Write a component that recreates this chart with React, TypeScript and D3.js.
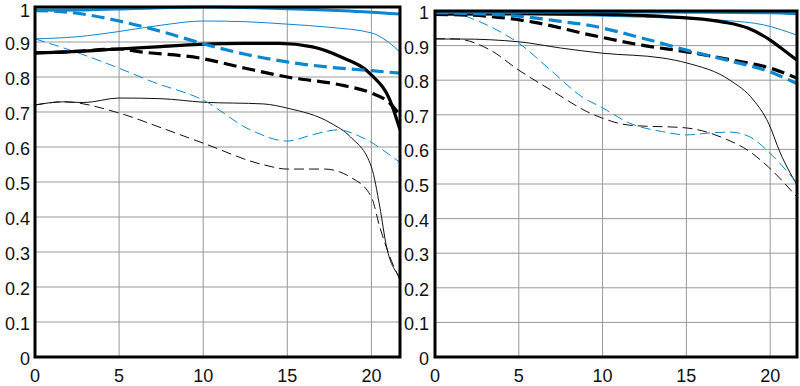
import React from "react";
import * as d3 from "d3";

const BLUE = "#0b87d1";

type Series = { name: string; color: string; thick: boolean; dashed: boolean; x: number[]; y: number[] };

// Left chart
const L_blueThickSolid_x = [0, 3, 6, 10, 14, 18, 21.7];
const L_blueThickSolid_y = [0.991, 0.992, 0.996, 1.0, 0.997, 0.99, 0.98];
const L_blueThickDash_x = [0, 2, 5, 7.5, 10, 12.5, 15, 17.5, 20, 21.7];
const L_blueThickDash_y = [0.99, 0.985, 0.96, 0.93, 0.895, 0.865, 0.843, 0.828, 0.818, 0.811];
const L_blueThinSolid_x = [0, 2.5, 5, 7.5, 10, 12.5, 15, 17.5, 20, 21, 21.7];
const L_blueThinSolid_y = [0.909, 0.915, 0.93, 0.948, 0.96, 0.958, 0.951, 0.942, 0.926, 0.9, 0.871];
const L_blueThinDash_x = [0, 2.5, 5, 7, 10, 12.8, 15, 16.5, 18, 19.5, 21.5, 21.7];
const L_blueThinDash_y = [0.909, 0.87, 0.825, 0.786, 0.734, 0.649, 0.617, 0.635, 0.649, 0.626, 0.563, 0.556];
const L_blackThinSolid_x = [0, 1.7, 2.9, 5, 7.5, 10, 13.6, 15, 17.6, 18.75, 20, 20.5, 20.9, 21.7];
const L_blackThinSolid_y = [0.72, 0.729, 0.727, 0.74, 0.738, 0.728, 0.723, 0.711, 0.668, 0.629, 0.543, 0.429, 0.315, 0.23];
const L_blackThinDash_x = [0, 1.7, 5, 7.5, 10, 13.6, 15, 17.2, 18.75, 20, 20.5, 21.1, 21.7];
const L_blackThinDash_y = [0.72, 0.729, 0.697, 0.655, 0.611, 0.549, 0.537, 0.537, 0.514, 0.457, 0.371, 0.286, 0.22];
const L_blackThickSolid_x = [0, 2, 5, 7.5, 9.8, 12.5, 14.5, 16.5, 18.2, 20, 21.1, 21.7];
const L_blackThickSolid_y = [0.869, 0.872, 0.88, 0.887, 0.893, 0.896, 0.896, 0.886, 0.857, 0.806, 0.734, 0.649];
const L_blackThickDash_x = [0, 2, 5, 6.25, 9.8, 12.5, 15, 18.2, 20, 21.1, 21.7];
const L_blackThickDash_y = [0.869, 0.872, 0.88, 0.872, 0.854, 0.825, 0.8, 0.777, 0.754, 0.725, 0.69];

// Right chart
const R_blueThickSolid_x = [0, 5, 10, 15, 20, 21.6];
const R_blueThickSolid_y = [0.997, 0.997, 0.998, 0.997, 0.995, 0.992];
const R_blueThickDash_x = [0, 2.5, 5, 7.5, 9.25, 12.5, 15, 17.5, 20, 21.6];
const R_blueThickDash_y = [0.995, 0.992, 0.985, 0.97, 0.958, 0.92, 0.887, 0.857, 0.824, 0.79];
const R_blueThinSolid_x = [0, 5, 10, 15, 17.5, 19.6, 21.6];
const R_blueThinSolid_y = [0.995, 0.99, 0.985, 0.978, 0.972, 0.96, 0.93];
const R_blueThinDash_x = [0, 1.5, 2.1, 3.5, 5, 6.9, 8.8, 10, 11.6, 13.5, 15, 16.5, 17.6, 18.8, 19.9, 21.6];
const R_blueThinDash_y = [0.995, 0.99, 0.98, 0.95, 0.907, 0.829, 0.751, 0.72, 0.676, 0.652, 0.642, 0.648, 0.65, 0.636, 0.593, 0.503];
const R_blackThickSolid_x = [0, 5, 9.25, 12.5, 15, 17.2, 18.7, 20, 21, 21.6];
const R_blackThickSolid_y = [0.991, 0.992, 0.991, 0.987, 0.98, 0.968, 0.95, 0.916, 0.88, 0.858];
const R_blackThickDash_x = [0, 2.1, 5.85, 9.25, 12.5, 15, 17.5, 20, 21.6];
const R_blackThickDash_y = [0.99, 0.988, 0.968, 0.931, 0.9, 0.882, 0.86, 0.835, 0.806];
const R_blackThinSolid_x = [0, 1.5, 5, 7.5, 10, 13.6, 15, 17.6, 19, 19.9, 20.6, 21.6];
const R_blackThinSolid_y = [0.919, 0.919, 0.911, 0.893, 0.878, 0.864, 0.85, 0.8, 0.743, 0.676, 0.59, 0.497];
const R_blackThinDash_x = [0, 1.3, 3.3, 5, 6.9, 9.25, 10, 11.6, 15, 17.2, 18.8, 19.9, 21.6];
const R_blackThinDash_y = [0.92, 0.919, 0.887, 0.829, 0.772, 0.705, 0.69, 0.67, 0.662, 0.633, 0.593, 0.549, 0.462];

const xTicks = [0, 5, 10, 15, 20];
const yTicks = [0, 0.1, 0.2, 0.3, 0.4, 0.5, 0.6, 0.7, 0.8, 0.9, 1];
const yTickLabels = ["0", "0.1", "0.2", "0.3", "0.4", "0.5", "0.6", "0.7", "0.8", "0.9", "1"];

const leftSeries: Series[] = [
  { name: "bts", color: "#111", thick: false, dashed: false, x: L_blackThinSolid_x, y: L_blackThinSolid_y },
  { name: "btd", color: "#111", thick: false, dashed: true, x: L_blackThinDash_x, y: L_blackThinDash_y },
  { name: "blts", color: BLUE, thick: false, dashed: false, x: L_blueThinSolid_x, y: L_blueThinSolid_y },
  { name: "bltd", color: BLUE, thick: false, dashed: true, x: L_blueThinDash_x, y: L_blueThinDash_y },
  { name: "bks", color: "#000", thick: true, dashed: false, x: L_blackThickSolid_x, y: L_blackThickSolid_y },
  { name: "bkd", color: "#000", thick: true, dashed: true, x: L_blackThickDash_x, y: L_blackThickDash_y },
  { name: "blks", color: BLUE, thick: true, dashed: false, x: L_blueThickSolid_x, y: L_blueThickSolid_y },
  { name: "blkd", color: BLUE, thick: true, dashed: true, x: L_blueThickDash_x, y: L_blueThickDash_y },
];

const rightSeries: Series[] = [
  { name: "bts", color: "#111", thick: false, dashed: false, x: R_blackThinSolid_x, y: R_blackThinSolid_y },
  { name: "btd", color: "#111", thick: false, dashed: true, x: R_blackThinDash_x, y: R_blackThinDash_y },
  { name: "blts", color: BLUE, thick: false, dashed: false, x: R_blueThinSolid_x, y: R_blueThinSolid_y },
  { name: "bltd", color: BLUE, thick: false, dashed: true, x: R_blueThinDash_x, y: R_blueThinDash_y },
  { name: "bks", color: "#000", thick: true, dashed: false, x: R_blackThickSolid_x, y: R_blackThickSolid_y },
  { name: "bkd", color: "#000", thick: true, dashed: true, x: R_blackThickDash_x, y: R_blackThickDash_y },
  { name: "blkd", color: BLUE, thick: true, dashed: true, x: R_blueThickDash_x, y: R_blueThickDash_y },
  { name: "blks", color: BLUE, thick: true, dashed: false, x: R_blueThickSolid_x, y: R_blueThickSolid_y },
];

const FONT = "'Liberation Sans', Arial, sans-serif";

function Panel({ left, right, top, bottom, xMax, series, labelX }: {
  left: number; right: number; top: number; bottom: number; xMax: number; series: Series[]; labelX: number;
}) {
  const x = d3.scaleLinear().domain([0, xMax]).range([left, right]);
  const y = d3.scaleLinear().domain([0, 1]).range([bottom, top]);
  const line = d3.line<[number, number]>().x((d) => x(d[0])).y((d) => y(d[1])).curve(d3.curveMonotoneX);
  const clipId = `clip-${left}`;
  return (
    <g>
      <defs>
        <clipPath id={clipId}>
          <rect x={left} y={top - 3} width={right - left} height={bottom - top + 3} />
        </clipPath>
      </defs>
      {yTicks.slice(1, -1).map((t) => (
        <line key={"h" + t} x1={left} x2={right} y1={y(t)} y2={y(t)} stroke="#999" strokeWidth={1} />
      ))}
      {xTicks.slice(1).map((t) => (
        <line key={"v" + t} x1={x(t)} x2={x(t)} y1={top} y2={bottom} stroke="#999" strokeWidth={1} />
      ))}
      <g clipPath={`url(#${clipId})`}>
        {series.map((s) => (
          <path
            key={s.name}
            d={line(s.x.map((v, i) => [v, s.y[i]] as [number, number])) || ""}
            fill="none"
            stroke={s.color}
            strokeWidth={s.thick ? 3.2 : 1}
            strokeDasharray={s.dashed ? (s.thick ? "13,6" : "10,5") : undefined}
          />
        ))}
      </g>
      <rect x={left} y={top} width={right - left} height={bottom - top} fill="none" stroke="#000" strokeWidth={3} />
      {yTicks.map((t, i) => (
        <text key={"yl" + t} x={labelX} y={Math.max(y(t), 9) + 8} textAnchor="end"
          fontFamily={FONT} fontSize={18} fill="#111">{yTickLabels[i]}</text>
      ))}
      {xTicks.map((t) => (
        <text key={"xl" + t} x={x(t)} y={382} textAnchor="middle"
          fontFamily={FONT} fontSize={18} fill="#111">{t}</text>
      ))}
    </g>
  );
}

export default function App() {
  return (
    <svg width={800} height={386} style={{ position: "absolute", left: 0, top: 0, background: "#fff" }}>
      <rect width={800} height={386} fill="#fff" />
      <Panel left={35} right={400} top={7} bottom={357} xMax={21.7} series={leftSeries} labelX={30} />
      <Panel left={435} right={797} top={11} bottom={357} xMax={21.6} series={rightSeries} labelX={429} />
    </svg>
  );
}
